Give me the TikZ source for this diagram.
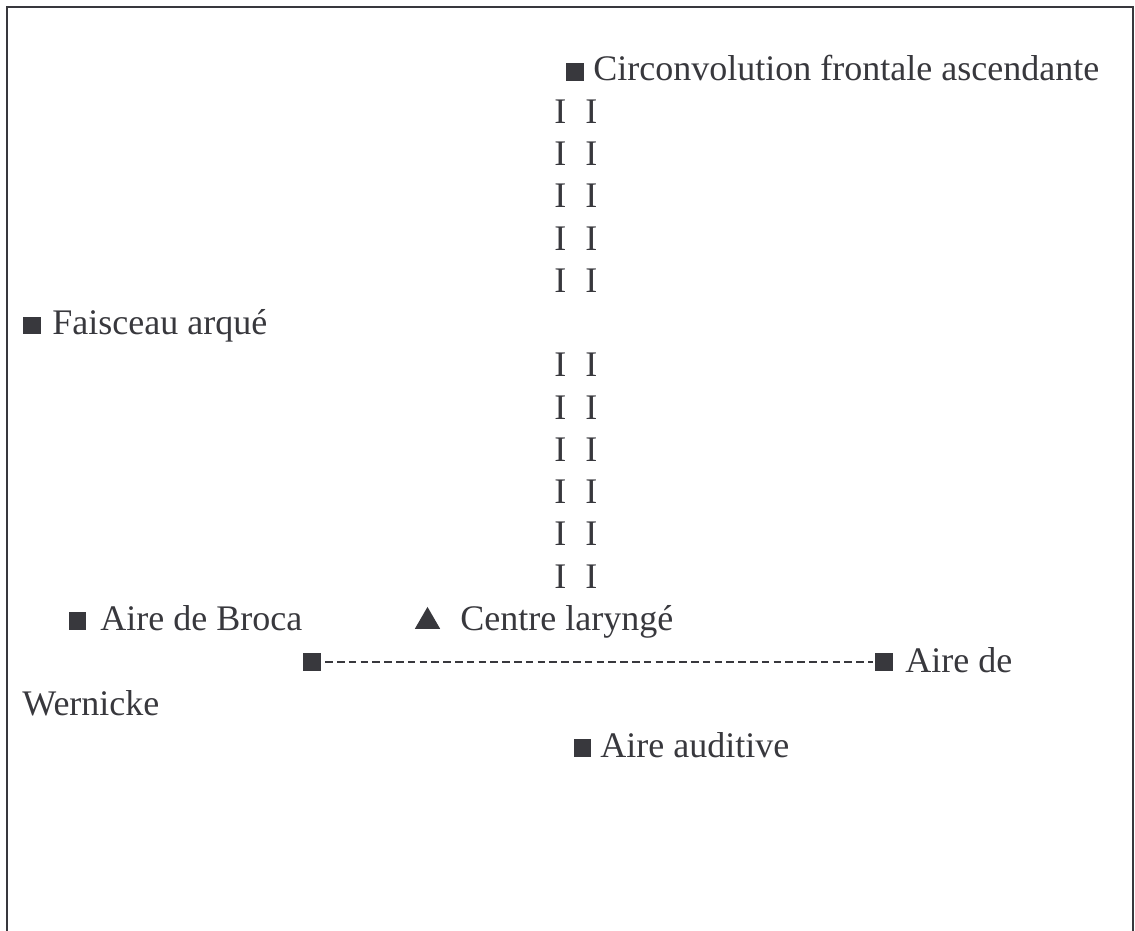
\documentclass[tikz,border=0pt]{standalone}
\usepackage{fontspec}
\setmainfont{Liberation Serif}
\usepackage{tikz}
\usetikzlibrary{shapes.geometric}
\definecolor{ink}{HTML}{38383D}

\begin{document}
\begin{tikzpicture}[x=0.5pt,y=-0.5pt,
    lbl/.style={anchor=base west,inner sep=0pt,text=ink,font=\fontsize{18}{22}\selectfont},
    sq/.style={fill=ink,minimum size=8.8pt,inner sep=0pt},
    tri/.style={regular polygon,regular polygon sides=3,fill=ink,minimum size=14.6pt,inner sep=0pt},
    frame/.style={draw=ink,line width=1.3pt},
    link/.style={draw=ink,line width=1.2pt,dash pattern=on 3.8pt off 2.1pt}]
      \useasboundingbox (0,0) rectangle (1135,931);
      % frame
      \draw[frame] (7,931) -- (7,7) -- (1133,7) -- (1133,931);
      % circonvolution
      \draw (575,72) node[sq](sqcirc){};
      \draw (593,81) node[lbl](circ){Circonvolution frontale ascendante};
      % I I
      \foreach \k in {1,2,3,4,5,7,8,9,10,11,12}{
        \draw (554,{81+42.25*\k}) node[lbl](ia\k){I};
        \draw (585,{81+42.25*\k}) node[lbl](ib\k){I};
      }
      % faisceau
      \draw (32,325.5) node[sq](sqfais){};
      \draw (52,334.5) node[lbl](fais){Faisceau arqué};
      % broca
      \draw (77.5,621) node[sq](sqbroca){};
      \draw (100,630) node[lbl](broca){Aire de Broca};
      % larynx
      \draw (427.5,621.5) node[tri](trilar){};
      \draw (460,630) node[lbl](lar){Centre laryngé};
      % wernicke
      \draw (312,662) node[sq](sqa){};
      \draw (884,662) node[sq](sqb){};
      \draw[link] ([xshift=2pt]sqa.east) -- ([xshift=-1pt]sqb.west);
      \draw (905,672) node[lbl](wera){Aire de};
      \draw (22,715) node[lbl](werb){Wernicke};
      % auditive
      \draw (582.5,748) node[sq](sqaud){};
      \draw (600,757) node[lbl](aud){Aire auditive};
\end{tikzpicture}
\end{document}
